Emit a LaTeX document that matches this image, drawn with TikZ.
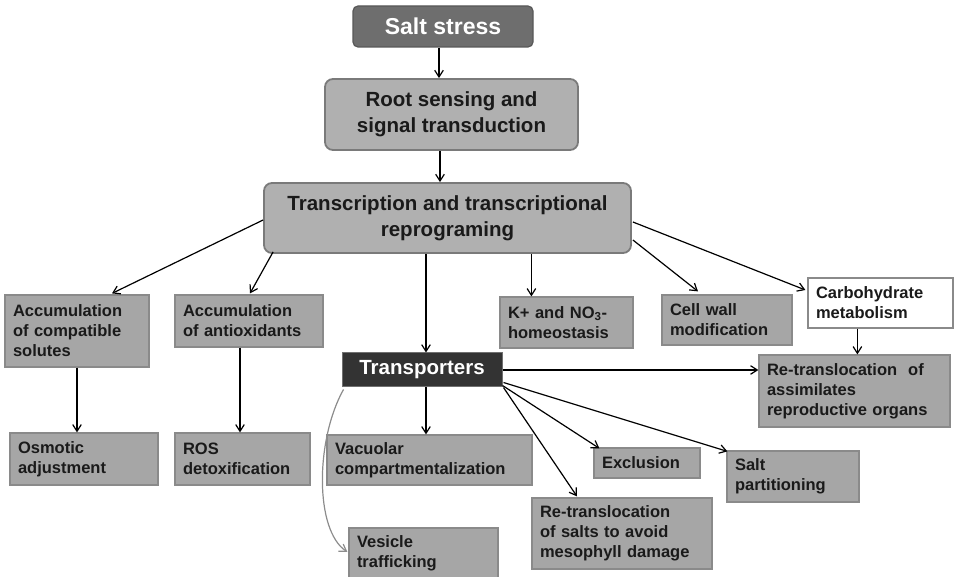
\documentclass[tikz,border=0pt]{standalone}
\usepackage{fontspec}
\setmainfont{Liberation Sans}
\usetikzlibrary{arrows.meta,calc}
\definecolor{boxgray}{HTML}{A6A6A6}
\definecolor{boxedge}{HTML}{8A8A8A}
\definecolor{topgray}{HTML}{B0B0B0}
\definecolor{topedge}{HTML}{7A7A7A}
\definecolor{saltgray}{HTML}{6E6E6E}
\definecolor{darkbox}{HTML}{333333}
\definecolor{txt}{HTML}{1A1A1A}
\definecolor{curvegray}{HTML}{8C8C8C}
\begin{document}
\begin{tikzpicture}[x=1pt,y=-1pt,
  gbox/.style={draw=boxedge, line width=1.2pt, fill=boxgray, inner xsep=8pt, inner ysep=0pt,
    align=left, text=txt, font=\fontsize{16.5}{20}\selectfont\bfseries},
  wbox/.style={gbox, fill=white},
  topbox/.style={draw=topedge, line width=1.8pt, fill=topgray, rounded corners=8pt, inner sep=0pt,
    align=center, text=txt, font=\fontsize{20.5}{26}\selectfont\bfseries},
  saltbox/.style={draw=saltgray!80!black, line width=1.2pt, fill=saltgray, rounded corners=5pt, inner sep=0pt,
    text=white, font=\fontsize{23}{27}\selectfont\bfseries},
  trbox/.style={draw=darkbox!70!white, line width=1pt, fill=darkbox, inner sep=0pt,
    text=white, font=\fontsize{20.5}{24}\selectfont\bfseries},
  arr/.style={draw=black, line width=1.2pt, -{Straight Barb[angle=65:8pt]}},
  garr/.style={draw=curvegray, line width=1.2pt, -{Straight Barb[angle=65:8pt]}}
]
\useasboundingbox (0,0) rectangle (954,577);
% top chain
\node[saltbox, minimum width=180pt, minimum height=41pt] (salt) at (443,26.5) {Salt stress};
\node[topbox, minimum width=253pt, minimum height=71pt] (root) at (451.5,114.5) {Root sensing and\\signal transduction};
\node[topbox, minimum width=367pt, minimum height=70pt] (trans) at (447.5,218) {Transcription and transcriptional\\reprograming};
% second row
\node[gbox, text width=128pt, minimum height=72pt] (acs) at (77,331) {Accumulation\\of compatible\\solutes};
\node[gbox, text width=132pt, minimum height=52pt] (aao) at (249,321) {Accumulation\\of antioxidants};
\node[gbox, text width=117pt, minimum height=51pt] (kno) at (566.5,322.5) {K+ and NO\textsubscript{3}-\\homeostasis};
\node[gbox, text width=114pt, minimum height=50pt] (cw) at (727,320) {Cell wall\\modification};
\node[wbox, text width=129pt, minimum height=50pt] (carb) at (880.5,303) {Carbohydrate\\metabolism};
% transporters
\node[trbox, minimum width=160pt, minimum height=34pt] (tra) at (422,370) {Transporters};
\node[gbox, text width=175pt, minimum height=72pt] (rta) at (854.5,391) {Re-translocation\ \ of\\assimilates\\reproductive organs};
% bottom
\node[gbox, text width=132pt, minimum height=52pt] (osm) at (84,459) {Osmotic\\adjustment};
\node[gbox, text width=119pt, minimum height=52pt] (ros) at (242.5,459) {ROS\\detoxification};
\node[gbox, text width=189pt, minimum height=50pt] (vac) at (429.5,460) {Vacuolar\\compartmentalization};
\node[gbox, text width=90pt, minimum height=30pt] (exc) at (647,463) {Exclusion};
\node[gbox, text width=116pt, minimum height=51pt] (sp) at (793,476.5) {Salt\\partitioning};
\node[gbox, text width=164pt, minimum height=71pt] (rts) at (622,533.5) {Re-translocation\\of salts to avoid\\mesophyll damage};
\node[gbox, text width=133pt, minimum height=50pt] (ves) at (423.5,553) {Vesicle\\trafficking};
% connectors
\draw[arr] ($(salt.south)+(-4,0)$) -- ($(salt.south |- root.north)+(-4,0)$);
\draw[arr] ($(salt.south |- root.south)+(-3,0)$) -- ($(salt.south |- trans.north)+(-3,0)$);
\draw[arr] ($(trans.west)+(0,2)$) -- ($(acs.north)+(35,-1)$);
\draw[arr] ($(trans.south west)+(10,-2)$) -- ($(aao.north)+(1,-1)$);
\draw[arr] ($(tra.north |- trans.south)+(4,0)$) -- ($(tra.north)+(4,0)$);
\draw[arr] ($(kno.north west |- trans.south)+(32,0)$) -- ($(kno.north west)+(32,0)$);
\draw[arr] ($(trans.east)+(1,22)$) -- ($(cw.north)+(-29,-3)$);
\draw[arr] ($(trans.east)+(1,4)$) -- ($(carb.west)+(-2,-13)$);
\draw[arr] ($(carb.south west)+(50,0)$) -- ($(carb.south west |- rta.north)+(50,0)$);
\draw[arr] (acs.south) -- (acs.south |- osm.north);
\draw[arr] ($(aao.south)+(-9,0)$) -- ($(aao.south |- ros.north)+(-9,0)$);
\draw[arr] (tra.east) -- (tra.east -| rta.west);
\draw[arr] ($(tra.south)+(4,0)$) -- ($(tra.south |- vac.north)+(4,0)$);
\draw[arr] ($(tra.south east)+(0,-2)$) -- ($(exc.north west)+(6,1)$);
\draw[arr] ($(tra.south east)+(1,0)$) -- ($(rts.north)+(-45,-1)$);
\draw[arr] ($(tra.south east)+(1,-5)$) -- ($(sp.north west)+(1,1)$);
\draw[garr] ($(tra.south west)+(2,2)$) .. controls +(-28,50) and +(-33,-22) .. ($(ves.west)+(-1,-1)$);
\end{tikzpicture}
\end{document}
